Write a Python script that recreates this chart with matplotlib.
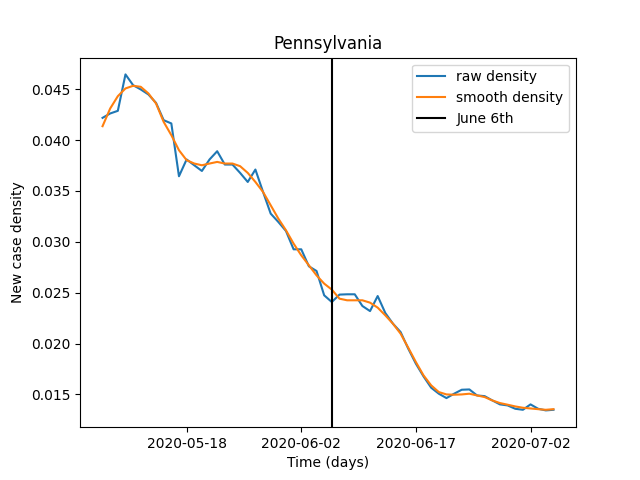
import numpy as np
import pandas as pd
import matplotlib
matplotlib.use('Agg')
import matplotlib.pyplot as plt
import matplotlib.dates as mdates

# Daily new case density for Pennsylvania
dates = pd.date_range('2020-05-07', periods=60, freq='D')

raw = [0.04218, 0.04261, 0.04287, 0.04645, 0.04539, 0.04497, 0.04448, 0.04365,
       0.04195, 0.04163, 0.03644, 0.03809, 0.03752, 0.03696, 0.03809, 0.0389,
       0.03759, 0.03759, 0.03677, 0.03588, 0.0371, 0.0349, 0.03277, 0.03195,
       0.03106, 0.02926, 0.02926, 0.02759, 0.02713, 0.02474, 0.02408, 0.02481,
       0.02484, 0.02484, 0.02369, 0.02319, 0.02467, 0.023, 0.02195, 0.02113,
       0.0195, 0.01802, 0.01677, 0.01566, 0.01507, 0.01464, 0.01507, 0.01546,
       0.01549, 0.0149, 0.01483, 0.01441, 0.01402, 0.01392, 0.01359, 0.01349,
       0.01402, 0.01359, 0.01343, 0.01349]

smooth = [0.04136, 0.0431, 0.04431, 0.04507, 0.04533, 0.04523, 0.04458, 0.04359,
          0.04178, 0.04048, 0.039, 0.03802, 0.03769, 0.03752, 0.03769, 0.03785,
          0.03769, 0.03769, 0.03743, 0.03677, 0.03588, 0.0349, 0.03359, 0.03228,
          0.03113, 0.02982, 0.02867, 0.02769, 0.0267, 0.02589, 0.0253, 0.02441,
          0.02425, 0.02425, 0.02425, 0.02402, 0.02353, 0.02277, 0.02195, 0.02097,
          0.01959, 0.01818, 0.01687, 0.01589, 0.01523, 0.015, 0.01497, 0.015,
          0.01507, 0.0149, 0.01474, 0.01441, 0.01415, 0.01399, 0.01382, 0.01369,
          0.01362, 0.01355, 0.01349, 0.01355]

marker_date = pd.Timestamp('2020-06-06')
tick_dates = pd.to_datetime(['2020-05-18', '2020-06-02', '2020-06-17', '2020-07-02'])

fig, ax = plt.subplots(figsize=(6.4, 4.8), dpi=100)
ax.plot(dates, raw, label='raw density')
ax.plot(dates, smooth, label='smooth density')
ax.axvline(marker_date, color='black', label='June 6th')

ax.set_xticks(tick_dates)
ax.xaxis.set_major_formatter(mdates.DateFormatter('%Y-%m-%d'))
ax.set_title('Pennsylvania')
ax.set_xlabel('Time (days)')
ax.set_ylabel('New case density')
ax.legend(loc='upper right')

fig.savefig('out.png')
